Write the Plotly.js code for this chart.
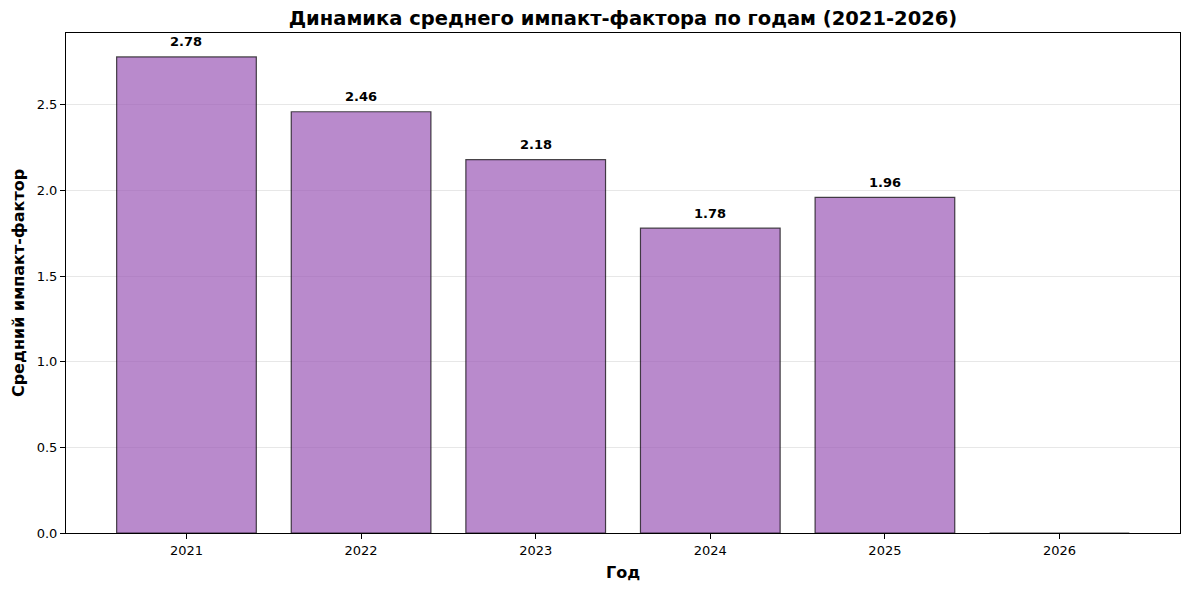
<!DOCTYPE html>
<html>
<head>
<meta charset="utf-8">
<script src="https://cdn.plot.ly/plotly-3.0.1.min.js"></script>
<style>
  body { margin: 0; background: #fff; }
  #chart { width: 1189px; height: 590px; }
</style>
</head>
<body>
<div id="chart"></div>
<script>
// данные
const years = ['2021', '2022', '2023', '2024', '2025', '2026'];
const avgImpact = [2.78, 2.46, 2.18, 1.78, 1.96, 0];

const font = 'DejaVu Sans, sans-serif';

// подписи над столбцами (только ненулевые); x — номер категории
const labels = [];
years.forEach(function (y, i) {
  if (avgImpact[i] > 0) {
    labels.push({
      x: i,
      y: avgImpact[i] + 0.05,
      xref: 'x', yref: 'y',
      text: '<b>' + avgImpact[i].toFixed(2) + '</b>',
      showarrow: false,
      yanchor: 'bottom',
      yshift: -3,
      font: { family: font, size: 13, color: '#000' }
    });
  }
});

const data = [{
  type: 'bar',
  x: years,
  y: avgImpact,
  width: 0.8,
  marker: {
    color: 'rgba(155,89,182,0.7)',
    line: { color: 'rgba(0,0,0,0.7)', width: 1.2 }
  },
  hoverinfo: 'x+y'
}];

const layout = {
  width: 1189,
  height: 590,
  margin: { l: 66, r: 9, t: 33, b: 57 },
  paper_bgcolor: '#fff',
  plot_bgcolor: '#fff',
  font: { family: font, size: 13, color: '#000' },
  showlegend: false,
  title: {
    text: '<b>Динамика среднего импакт-фактора по годам (2021-2026)</b>',
    font: { family: font, size: 19.5, color: '#000' },
    xref: 'paper', x: 0.5, xanchor: 'center',
    y: 1 - 18 / 590, yanchor: 'middle'
  },
  xaxis: {
    type: 'category',
    range: [-0.69, 5.69],
    showgrid: false,
    zeroline: false,
    showline: true, mirror: true, linecolor: '#000', linewidth: 1,
    ticks: 'outside', ticklen: 5, tickcolor: '#000',
    tickfont: { family: font, size: 13 },
    title: { text: '<b>Год</b>', font: { family: font, size: 16 }, standoff: 10 }
  },
  yaxis: {
    range: [0, 2.92],
    tickvals: [0, 0.5, 1, 1.5, 2, 2.5],
    ticktext: ['0.0', '0.5', '1.0', '1.5', '2.0', '2.5'],
    showgrid: true, gridcolor: 'rgba(176,176,176,0.3)', gridwidth: 1,
    zeroline: false,
    showline: true, mirror: true, linecolor: '#000', linewidth: 1,
    ticks: 'outside', ticklen: 5, tickcolor: '#000',
    tickfont: { family: font, size: 13 },
    title: { text: '<b>Средний импакт-фактор</b>', font: { family: font, size: 16 }, standoff: 8 }
  },
  annotations: labels
};

Plotly.newPlot('chart', data, layout, { staticPlot: true, displayModeBar: false });
</script>
</body>
</html>
